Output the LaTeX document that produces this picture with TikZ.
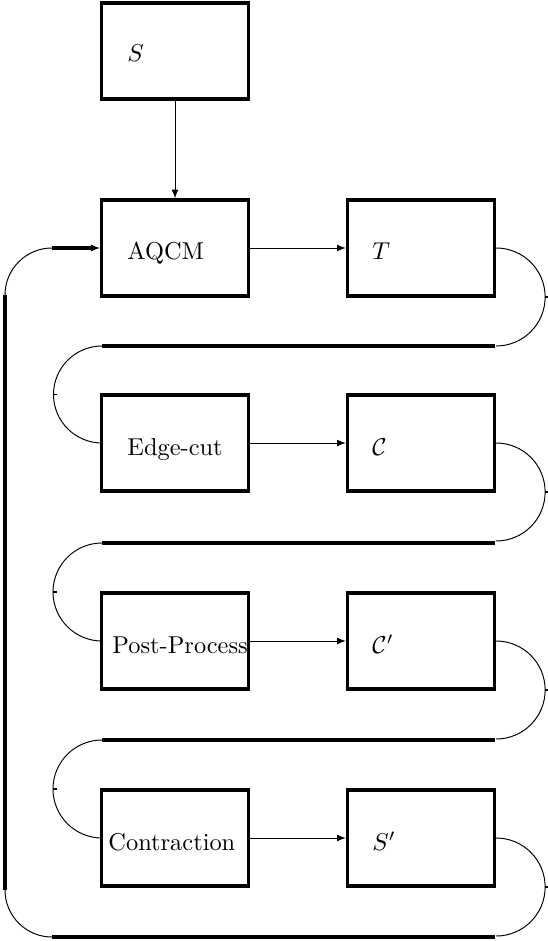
\documentclass[tikz,border=0pt]{standalone}
\usetikzlibrary{arrows.meta}
\begin{document}
\begin{tikzpicture}[x=0.41pt,y=0.41pt,
  box/.style={draw,line width=1.35pt,minimum width=147*0.41pt,minimum height=96*0.41pt,inner sep=0pt},
  lbl/.style={anchor=base west,inner sep=0pt},
  arr/.style={line width=0.4pt,-{Latex[length=3.6pt,width=2.8pt]}},
  thinline/.style={line width=0.4pt},
  thickline/.style={line width=1.3pt},
  tick/.style={line width=0.7pt}]
\useasboundingbox (0,0) rectangle (548,-941);
% boxes
\node[box] (S)  at (175,-51)  {};
\node[box] (A)  at (175,-248) {};
\node[box] (T)  at (421,-248) {};
\node[box] (E)  at (175,-443) {};
\node[box] (C)  at (421,-443) {};
\node[box] (P)  at (175,-641) {};
\node[box] (Cp) at (421,-641) {};
\node[box] (K)  at (175,-838) {};
\node[box] (Sp) at (421,-838) {};
% labels
\node[lbl] (lS)  at (127,-62)    {$S$};
\node[lbl] (lA)  at (127,-259.5) {AQCM};
\node[lbl] (lT)  at (372,-259.5) {$T$};
\node[lbl] (lE)  at (127,-455)   {Edge-cut};
\node[lbl] (lC)  at (372,-455)   {$\mathcal{C}$};
\node[lbl] (lP)  at (112,-653)   {Post-Process};
\node[lbl] (lCp) at (372,-653)   {$\mathcal{C}'$};
\node[lbl] (lK)  at (108,-850)   {Contraction};
\node[lbl] (lSp) at (372,-850)   {$S'$};
% straight arrows
\draw[arr] (S) -- (A);
\draw[arr] (A) -- (T);
\draw[arr] (E) -- (C);
\draw[arr] (P) -- (Cp);
\draw[arr] (K) -- (Sp);
% line end coordinates
\coordinate (r1) at (495,-346); \coordinate (l1) at (102,-346);
\coordinate (r2) at (495,-543); \coordinate (l2) at (102,-543);
\coordinate (r3) at (495,-740); \coordinate (l3) at (102,-740);
\coordinate (r4) at (495,-937); \coordinate (l4) at (52,-937);
\coordinate (v1) at (5,-890);   \coordinate (v2) at (5,-295);
\coordinate (h1) at (52,-248);  \coordinate (h2) at (92,-248);
% right loops
\draw[thinline] (T.east)  arc[start angle=90,end angle=-90,radius=49];
\draw[thinline] (C.east)  arc[start angle=90,end angle=-90,radius=49];
\draw[thinline] (Cp.east) arc[start angle=90,end angle=-90,radius=49];
\draw[thinline] (Sp.east) arc[start angle=90,end angle=-90,radius=49];
\draw[tick] (544.5,-297) -- (548,-297);
\draw[tick] (544.5,-492) -- (548,-492);
\draw[tick] (544.5,-690) -- (548,-690);
\draw[tick] (544.5,-887) -- (548,-887);
% thick horizontal lines
\draw[thickline] (r1) -- (l1);
\draw[thickline] (r2) -- (l2);
\draw[thickline] (r3) -- (l3);
\draw[thickline] (r4) -- (l4);
% left loops
\draw[thinline] (l1) arc[start angle=90,end angle=270,radius=48.5];
\draw[thinline] (l2) arc[start angle=90,end angle=270,radius=49];
\draw[thinline] (l3) arc[start angle=90,end angle=270,radius=49];
\draw[tick] (53.5,-394.5) -- (57,-394.5);
\draw[tick] (53,-592) -- (56.5,-592);
\draw[tick] (53,-789) -- (56.5,-789);
% return path
\draw[thinline] (l4) arc[start angle=270,end angle=180,radius=47];
\draw[thickline] (v1) -- (v2);
\draw[thinline] (v2) arc[start angle=180,end angle=90,radius=47];
\draw[thickline] (h1) -- (h2);
\draw[arr] (h2) -- (A);
\end{tikzpicture}
\end{document}
